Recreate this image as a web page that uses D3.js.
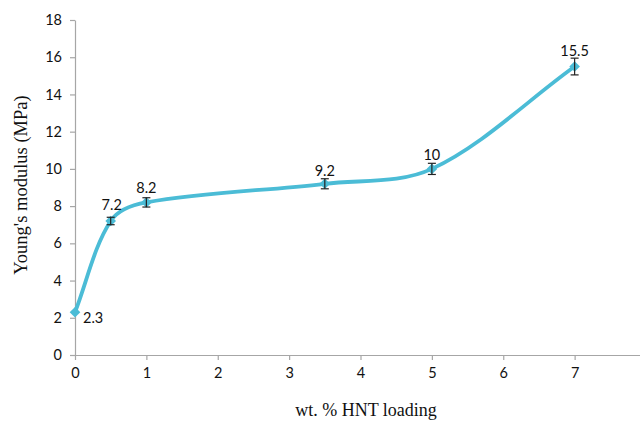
<!DOCTYPE html>
<html><head><meta charset="utf-8">
<script src="https://cdn.jsdelivr.net/npm/d3@7"></script>
<style>body{margin:0;background:#fff}</style>
</head><body>
<svg id="c" width="642" height="421"></svg>
<script>
const loading = [0, 0.5, 1, 3.5, 5, 7];
const modulus = [2.3, 7.2, 8.2, 9.2, 10, 15.5];
const errors = [0, 0.2, 0.25, 0.27, 0.3, 0.45];
const labels = ["2.3", "7.2", "8.2", "9.2", "10", "15.5"];
const xTicks = [0, 1, 2, 3, 4, 5, 6, 7, 8];
const yTicks = [0, 2, 4, 6, 8, 10, 12, 14, 16, 18];

const svg = d3.select("#c");
const x = d3.scaleLinear().domain([0, 8]).range([75, 646]);
const y = d3.scaleLinear().domain([0, 18]).range([355, 20]);
const axisColor = "#a6a6a6";
const tickFont = "Lato, 'Open Sans', sans-serif";
const lineColor = "#4bbcd6";

const xa = svg.append("g").attr("transform", "translate(0,355)")
  .call(d3.axisBottom(x).tickValues(xTicks).tickSize(5).tickPadding(8).tickSizeOuter(0));
const ya = svg.append("g").attr("transform", "translate(75,0)")
  .call(d3.axisLeft(y).tickValues(yTicks).tickSize(5).tickPadding(8).tickSizeOuter(0));
[xa, ya].forEach(a => {
  a.selectAll("path, line").attr("stroke", axisColor).attr("stroke-width", 1.2);
  a.selectAll("text").attr("fill", "#111").style("font-family", tickFont).style("font-size", "14.5px");
});
xa.selectAll(".tick").filter(d => d === 8).select("text").remove();
xa.select(".domain").attr("d", "M75,0.5H640");

// Excel-like smoothed line: chord-length weighted Bezier through scaled points
const pts = modulus.map((d, i) => [x(loading[i]), y(d)]);
const dist = (a, b) => Math.hypot(b[0] - a[0], b[1] - a[1]);
const tang = pts.map((p, i) => {
  const a = pts[Math.max(0, i - 1)], b = pts[Math.min(pts.length - 1, i + 1)];
  const dd = (i > 0 ? dist(pts[i - 1], p) : 0) + (i < pts.length - 1 ? dist(p, pts[i + 1]) : 0);
  return [(b[0] - a[0]) / dd, (b[1] - a[1]) / dd];
});
const pth = d3.path();
pth.moveTo(pts[0][0], pts[0][1]);
for (let i = 0; i < pts.length - 1; i++) {
  const p = pts[i], q = pts[i + 1], d = dist(p, q) / 3;
  pth.bezierCurveTo(p[0] + tang[i][0] * d, p[1] + tang[i][1] * d,
                    q[0] - tang[i + 1][0] * d, q[1] - tang[i + 1][1] * d, q[0], q[1]);
}
svg.append("path").attr("d", pth.toString())
  .attr("fill", "none").attr("stroke", lineColor).attr("stroke-width", 3.8);

// markers
svg.append("g").selectAll("path").data(modulus).join("path")
  .attr("d", d3.symbol(d3.symbolDiamond2, 72))
  .attr("transform", (d, i) => `translate(${x(loading[i])},${y(d)})`)
  .attr("fill", lineColor);

// error bars
const eb = svg.append("g").attr("stroke", "#222").attr("stroke-width", 1.2);
modulus.forEach((d, i) => {
  if (!errors[i]) return;
  const cx = x(loading[i]), y1 = y(d - errors[i]), y2 = y(d + errors[i]);
  eb.append("line").attr("x1", cx).attr("x2", cx).attr("y1", y1).attr("y2", y2);
  eb.append("line").attr("x1", cx - 4).attr("x2", cx + 4).attr("y1", y1).attr("y2", y1);
  eb.append("line").attr("x1", cx - 4).attr("x2", cx + 4).attr("y1", y2).attr("y2", y2);
});

// data labels
const offs = [[8, 11, "start"], [1, -11, "middle"], [0, -9, "middle"], [0, -8, "middle"], [0, -9, "middle"], [0, -11, "middle"]];
svg.append("g").selectAll("text").data(labels).join("text")
  .attr("x", (d, i) => x(loading[i]) + offs[i][0])
  .attr("y", (d, i) => y(modulus[i]) + offs[i][1])
  .attr("text-anchor", (d, i) => offs[i][2])
  .style("font-family", tickFont).style("font-size", "14.5px").attr("fill", "#111")
  .text(d => d);

svg.append("text").attr("x", 366).attr("y", 416).attr("text-anchor", "middle")
  .style("font-family", "'Liberation Serif', serif").style("font-size", "18px").attr("fill", "#111")
  .text("wt. % HNT loading");
svg.append("text").attr("transform", "translate(27,185) rotate(-90)").attr("text-anchor", "middle")
  .style("font-family", "'Liberation Serif', serif").style("font-size", "18.5px").attr("fill", "#111")
  .text("Young's modulus (MPa)");
</script>
</body></html>
